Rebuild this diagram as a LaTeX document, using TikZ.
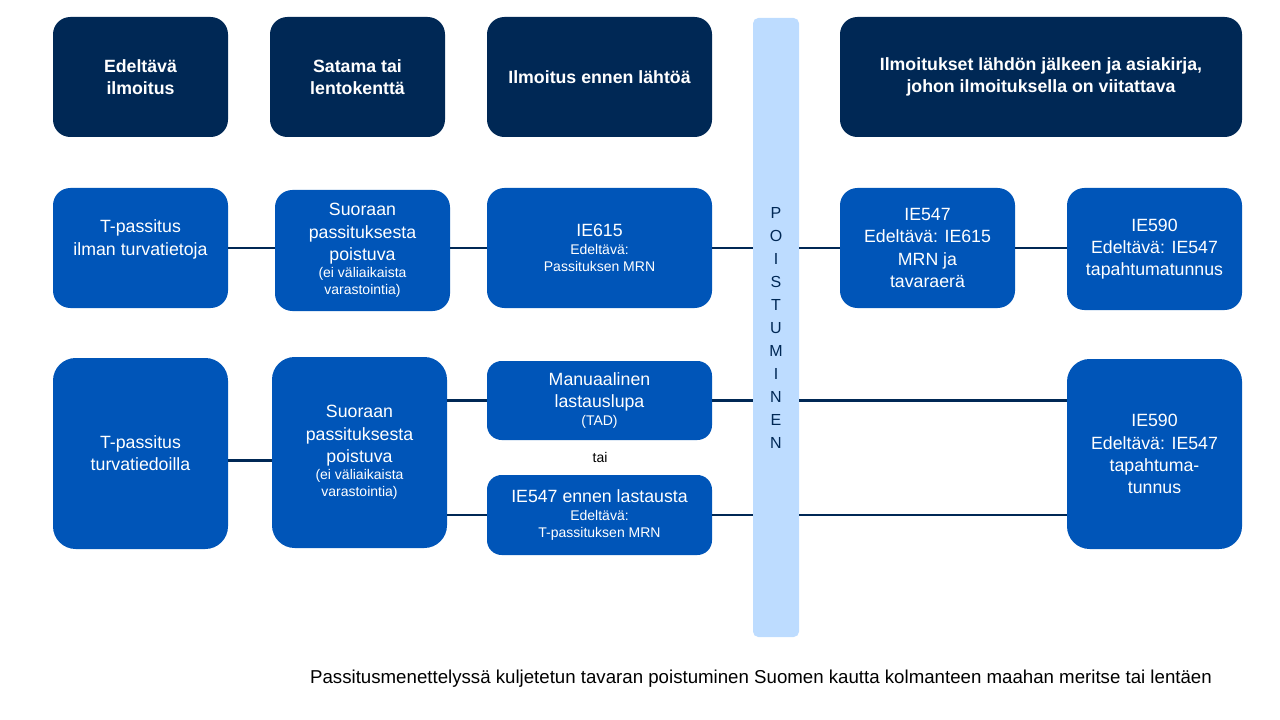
\documentclass[tikz,border=0pt]{standalone}
\usepackage{fontspec}
\setmainfont{Liberation Sans}
\definecolor{navy}{HTML}{002855}
\definecolor{boxblue}{HTML}{0055B8}
\definecolor{exitblue}{HTML}{BDDCFF}
\newcommand{\sm}[1]{{\fontsize{10.5}{12.5}\selectfont #1}}
\tikzset{
    hdr/.style={fill=navy, text=white, rounded corners=13pt, align=center, inner sep=2pt,
        font=\bfseries\fontsize{13.3}{16}\selectfont},
    blk/.style={fill=boxblue, text=white, rounded corners=13pt, align=center, inner sep=2pt,
        font=\fontsize{13.3}{16.6}\selectfont},
    link/.style={draw=navy, line width=2.2pt}
}
\begin{document}
\begin{tikzpicture}[x=0.75pt, y=-0.75pt]
    \useasboundingbox (0,0) rectangle (1280,720);

    % headers
    \node [hdr, minimum width=131.25pt, minimum height=90pt] (h1) at (140.5, 77) {Edeltävä\\ilmoitus};
    \node [hdr, minimum width=131.25pt, minimum height=90pt] (h2) at (357.5, 77) {Satama tai\\lentokenttä};
    \node [hdr, minimum width=168.75pt, minimum height=90pt] (h3) at (599.5, 77) {Ilmoitus ennen lähtöä};
    \node [hdr, minimum width=301.5pt, minimum height=90pt] (h4) at (1041, 77) {Ilmoitukset lähdön jälkeen ja asiakirja,\\johon ilmoituksella on viitattava};

    % exit bar
    \node [fill=exitblue, rounded corners=4pt, minimum width=34.5pt, minimum height=464.25pt, inner sep=0pt,
        align=center, font=\fontsize{12}{17.25}\selectfont, text=navy] (exit) at (776, 327.5)
        {P\\O\\I\\S\\T\\U\\M\\I\\N\\E\\N};

    % first row
    \node [blk, minimum width=131.25pt, minimum height=90pt] (a1) at (140.5, 248) {T-passitus\\ilman turvatietoja\\[-1pt]};
    \node [blk, minimum width=131.25pt, minimum height=90.75pt] (b1) at (362.5, 250.5)
        {Suoraan\\passituksesta\\poistuva\\[-4pt]\sm{(ei väliaikaista}\\[-3.5pt]\sm{varastointia)}};
    \node [blk, minimum width=168.75pt, minimum height=90pt] (c1) at (599.5, 248)
        {IE615\\[-3pt]\sm{Edeltävä:}\\[-3.5pt]\sm{Passituksen MRN}};
    \node [blk, minimum width=131.25pt, minimum height=90pt] (d1) at (927.5, 248)
        {IE547\\Edeltävä: IE615\\MRN ja\\tavaraerä};
    \node [blk, minimum width=131.25pt, minimum height=91.5pt] (e1) at (1154.5, 249)
        {IE590\\Edeltävä: IE547\\tapahtumatunnus};

    % second row
    \node [blk, rounded corners=17pt, minimum width=131.25pt, minimum height=143.25pt] (a2) at (140.5, 453.5)
        {T-passitus\\turvatiedoilla};
    \node [blk, rounded corners=17pt, minimum width=131.25pt, minimum height=143.25pt] (b2) at (359.5, 452.5)
        {Suoraan\\passituksesta\\poistuva\\[-4pt]\sm{(ei väliaikaista}\\[-3.5pt]\sm{varastointia)}};
    \node [blk, rounded corners=11pt, minimum width=168.75pt, minimum height=59.25pt] (c2) at (599.5, 400.5)
        {Manuaalinen\\lastauslupa\\[-3pt]\sm{(TAD)}};
    \node [font=\fontsize{10.5}{12.5}\selectfont] (tai) at (600, 457) {tai};
    \node [blk, rounded corners=11pt, minimum width=168.75pt, minimum height=60pt] (c3) at (599.5, 515)
        {IE547 ennen lastausta\\[-3pt]\sm{Edeltävä:}\\[-3.5pt]\sm{T-passituksen MRN}};
    \node [blk, rounded corners=17pt, minimum width=131.25pt, minimum height=142.5pt] (e2) at (1154.5, 454)
        {IE590\\Edeltävä: IE547\\tapahtuma-\\tunnus};

    % connectors
    \draw [link] (a1.east) -- (a1.east -| b1.west);
    \draw [link] (c1.west -| b1.east) -- (c1.west);
    \draw [link] (c1.east) -- (c1.east -| exit.west);
    \draw [link] (c1.east -| exit.east) -- (d1.west);
    \draw [link] (d1.east) -- (d1.east -| e1.west);
    \draw [link] ([yshift=-5pt]a2.east) -- ([yshift=-5pt]a2.east -| b2.west);
    \draw [link] (c2.west -| b2.east) -- (c2.west);
    \draw [link] (c2.east) -- (c2.east -| exit.west);
    \draw [link] (c2.east -| exit.east) -- (c2.east -| e2.west);
    \draw [link] (c3.west -| b2.east) -- (c3.west);
    \draw [link] (c3.east) -- (c3.east -| exit.west);
    \draw [link] (c3.east -| exit.east) -- (c3.east -| e2.west);

    \node [font=\fontsize{14}{17}\selectfont] (caption) at (761, 679)
        {Passitusmenettelyssä kuljetetun tavaran poistuminen Suomen kautta kolmanteen maahan meritse tai lentäen};
\end{tikzpicture}
\end{document}
